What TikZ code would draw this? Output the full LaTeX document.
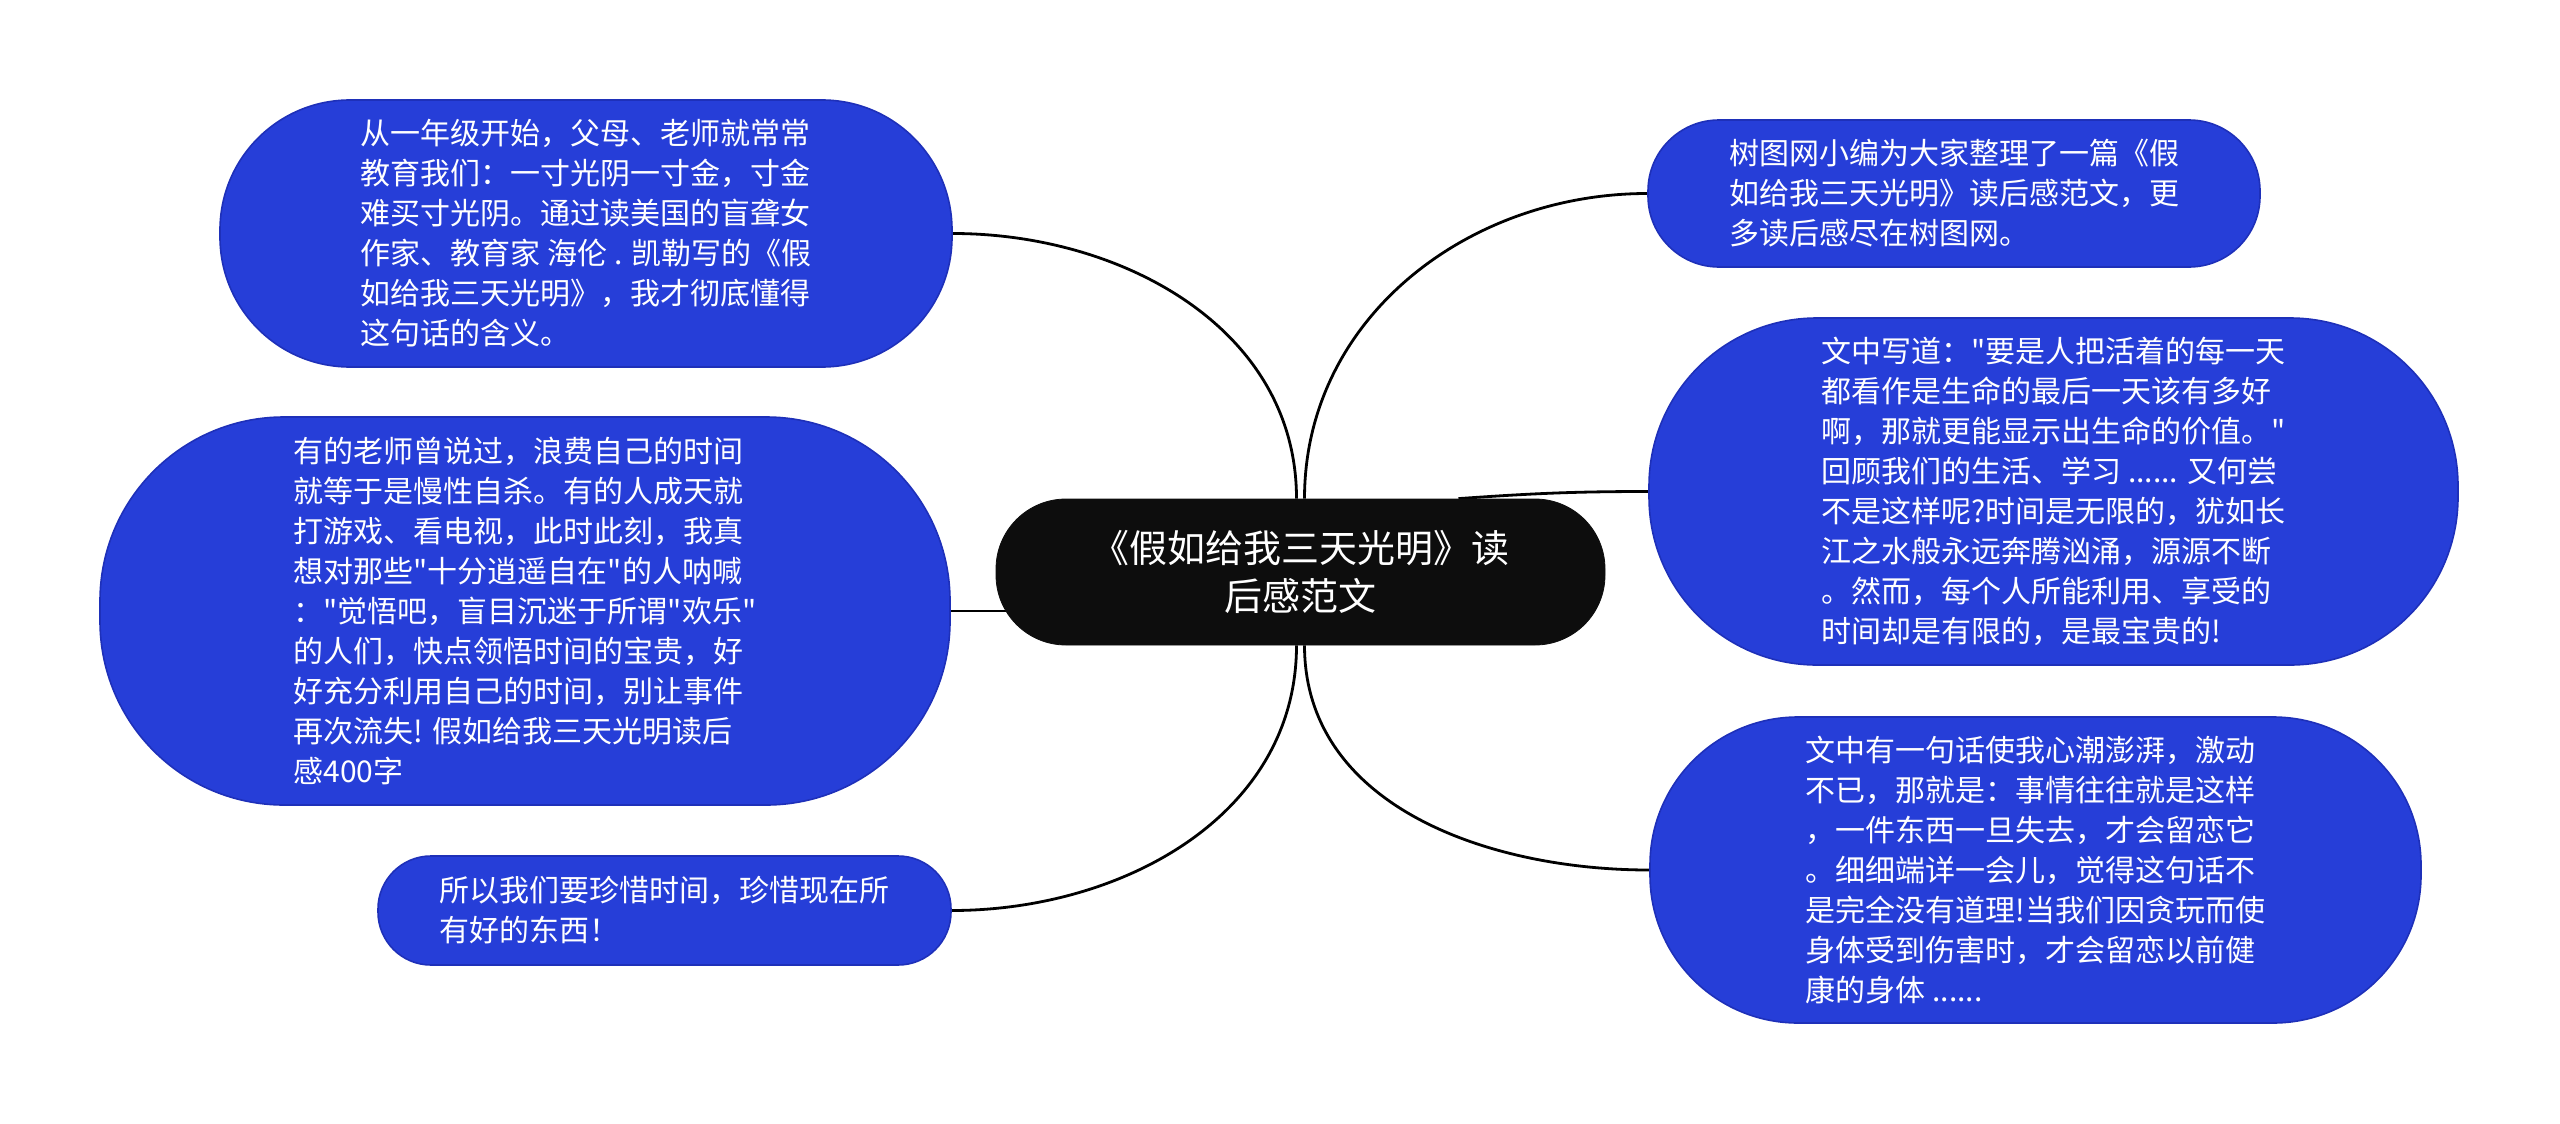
\documentclass[tikz,border=0pt]{standalone}
\usepackage{fontspec}
\newfontfamily\cjk{Noto Sans CJK SC}
\pgfdeclarelayer{background}
\pgfsetlayers{background,main}
\definecolor{leafblue}{RGB}{38,62,216}
\definecolor{leafedge}{RGB}{30,48,185}
\definecolor{rootblack}{RGB}{13,13,13}
\tikzset{
  leaf/.style={draw=leafedge, line width=0.8pt, fill=leafblue, text=white, inner sep=0pt,
    align=left, font=\cjk\fontsize{15pt}{20pt}\selectfont},
  root/.style={draw=rootblack, fill=rootblack, text=white, inner sep=0pt,
    align=center, font=\cjk\fontsize{19pt}{24pt}\selectfont},
  conn/.style={draw=black, line width=1.4pt}
}
\begin{document}
\begin{tikzpicture}[x=0.5pt,y=-0.5pt]
\useasboundingbox (0,0) rectangle (2560,1124);
\node[root, minimum width=304.5pt, minimum height=73pt, rounded corners=35pt] (c) at (1300.5,572)
  {《假如给我三天光明》读\\后感范文};
\node[leaf, minimum width=366pt, minimum height=133.5pt, rounded corners=65pt] (n1) at (586,233.5)
  {从一年级开始，父母、老师就常常\\教育我们：一寸光阴一寸金，寸金\\难买寸光阴。通过读美国的盲聋女\\作家、教育家 海伦 . 凯勒写的《假\\如给我三天光明》，我才彻底懂得\\这句话的含义。};
\node[leaf, minimum width=425pt, minimum height=194pt, rounded corners=92pt] (n2) at (525,611)
  {有的老师曾说过，浪费自己的时间\\就等于是慢性自杀。有的人成天就\\打游戏、看电视，此时此刻，我真\\想对那些"十分逍遥自在"的人呐喊\\："觉悟吧，盲目沉迷于所谓"欢乐"\\的人们，快点领悟时间的宝贵，好\\好充分利用自己的时间，别让事件\\再次流失! 假如给我三天光明读后\\感400字};
\node[leaf, minimum width=286.5pt, minimum height=54.5pt, rounded corners=26.5pt] (n3) at (664.5,910.5)
  {所以我们要珍惜时间，珍惜现在所\\有好的东西！};
\node[leaf, minimum width=306pt, minimum height=73.5pt, rounded corners=35.5pt] (n4) at (1954,193.5)
  {树图网小编为大家整理了一篇《假\\如给我三天光明》读后感范文，更\\多读后感尽在树图网。};
\node[leaf, minimum width=404.5pt, minimum height=173.5pt, rounded corners=84pt] (n5) at (2053.5,491.5)
  {文中写道："要是人把活着的每一天\\都看作是生命的最后一天该有多好\\啊，那就更能显示出生命的价值。"\\回顾我们的生活、学习 ...... 又何尝\\不是这样呢?时间是无限的，犹如长\\江之水般永远奔腾汹涌，源源不断\\。然而，每个人所能利用、享受的\\时间却是有限的，是最宝贵的!};
\node[leaf, minimum width=385.5pt, minimum height=153pt, rounded corners=74pt] (n6) at (2035.5,870)
  {文中有一句话使我心潮澎湃，激动\\不已，那就是：事情往往就是这样\\，一件东西一旦失去，才会留恋它\\。细细端详一会儿，觉得这句话不\\是完全没有道理!当我们因贪玩而使\\身体受到伤害时，才会留恋以前健\\康的身体 ......};
\begin{pgfonlayer}{background}
\draw[conn] ([xshift=-2pt]c.north) to[out=90,in=0] (n1.east);
\draw[conn] ([xshift=2pt]c.north) to[out=90,in=180] (n4.west);
\draw[conn] ([xshift=79pt]c.north) to[out=4,in=180] (n5.west);
\draw[conn] (c.center |- n2.east) -- (n2.east);
\draw[conn] ([xshift=-2pt]c.south) to[out=-90,in=0] (n3.east);
\draw[conn] ([xshift=2pt]c.south) to[out=-90,in=180] (n6.west);
\end{pgfonlayer}
\end{tikzpicture}
\end{document}
